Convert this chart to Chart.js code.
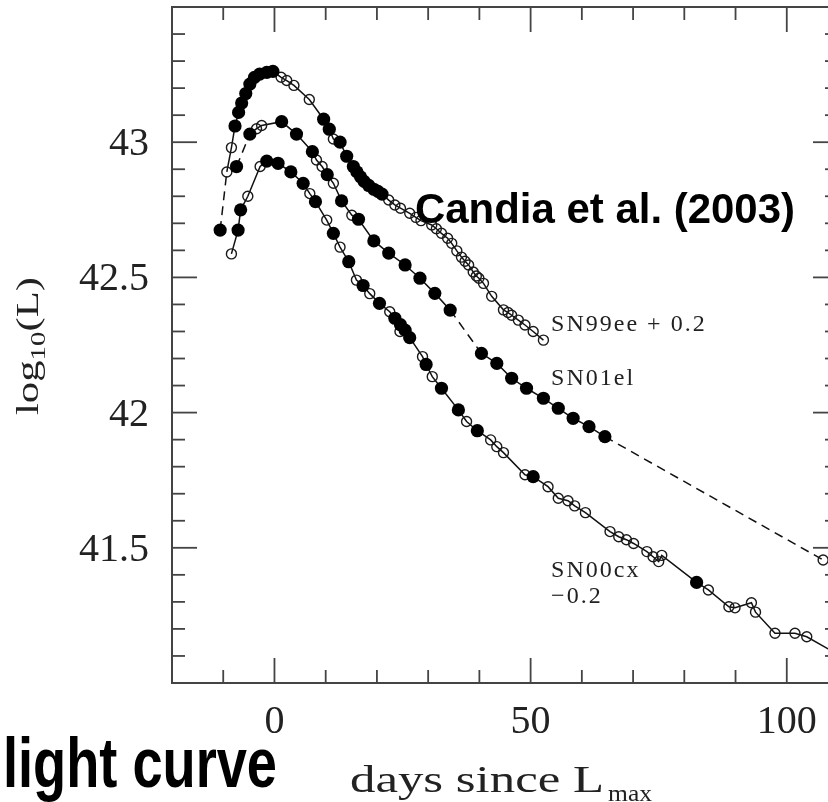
<!DOCTYPE html>
<html><head><meta charset="utf-8">
<script src="https://cdn.jsdelivr.net/npm/chart.js@4/dist/chart.umd.min.js"></script>
<style>html,body{margin:0;padding:0;background:#fff;overflow:hidden;width:828px;height:802px}canvas{display:block}</style>
</head><body>
<canvas id="c" width="860" height="802"></canvas>
<script>
// ---------------- data (days since L_max, log10 L) ----------------
const sn99eeFilledDays = [-10.6,-7.7,-7.0,-6.4,-5.6,-4.8,-3.9,-2.9,-1.5,-0.3,9.6,10.7,12.8,14.1,15.4,16.1,16.8,17.5,18.4,19.4,20.2,21.0];
const sn99eeFilledLogL = [42.675,43.06,43.11,43.145,43.18,43.215,43.24,43.252,43.258,43.262,43.085,43.048,43.0,42.948,42.91,42.89,42.872,42.855,42.84,42.826,42.818,42.808];
const sn99eeOpenDays = [-9.3,-8.4,1.3,2.4,3.8,6.8,11.5,22.3,23.5,24.6,26.4,27.6,28.6,30.7,31.6,32.6,33.8,34.6,35.6,36.5,37.2,37.9,38.8,39.4,39.9,40.8,42.4,44.7,45.6,46.3,47.6,48.9,50.5,52.5];
const sn99eeOpenLogL = [42.89,42.98,43.24,43.228,43.21,43.158,43.012,42.786,42.768,42.756,42.737,42.722,42.71,42.694,42.68,42.663,42.645,42.626,42.598,42.575,42.56,42.546,42.52,42.505,42.497,42.478,42.43,42.38,42.37,42.36,42.342,42.324,42.3,42.268];

const sn01elFilledDays = [-7.4,-4.8,1.4,4.3,7.4,10.3,13.1,16.4,19.4,22.3,25.5,28.4,31.3,34.3,40.4,43.4,46.3,49.2,52.5,55.4,58.3,61.4,64.5];
const sn01elFilledLogL = [42.91,43.03,43.076,43.03,42.965,42.88,42.783,42.715,42.635,42.59,42.546,42.497,42.441,42.379,42.219,42.182,42.127,42.09,42.053,42.016,41.979,41.948,41.911];
const sn01elOpenDays = [-3.5,-2.5,8.2,9.3,11.5,15.1,107.1];
const sn01elOpenLogL = [43.05,43.062,42.934,42.91,42.848,42.73,41.455];

const sn00cxFilledDays = [-7.1,-6.6,-1.5,0.7,3.2,5.6,8.0,11.5,14.5,17.3,20.5,23.5,24.6,25.5,26.4,29.6,32.6,35.9,39.6,50.5,82.4];
const sn00cxFilledLogL = [42.675,42.75,42.93,42.922,42.89,42.848,42.78,42.663,42.558,42.47,42.404,42.349,42.325,42.305,42.277,42.178,42.09,42.01,41.933,41.763,41.372];
const sn00cxOpenDays = [-8.4,-5.2,-2.8,6.9,10.2,12.8,16.0,18.6,22.5,24.5,28.9,30.8,37.5,42.2,43.4,44.7,48.9,53.4,55.4,57.3,58.6,60.7,65.5,67.2,68.7,70.1,72.7,73.9,75.0,75.6,84.7,88.7,89.9,93.1,93.9,97.7,101.6,103.9,110.5];
const sn00cxOpenLogL = [42.587,42.80,42.91,42.81,42.712,42.612,42.49,42.44,42.373,42.30,42.207,42.133,41.967,41.899,41.874,41.852,41.77,41.726,41.683,41.674,41.655,41.63,41.56,41.541,41.53,41.516,41.486,41.467,41.449,41.472,41.344,41.282,41.278,41.297,41.262,41.184,41.184,41.171,41.10];

const seriesNames = ['SN99ee + 0.2', 'SN01el', 'SN00cx'];
const xTickLabels = ['0', '50', '100'];
const yTickLabels = ['41.5', '42', '42.5', '43'];

// ---------------- styling / layout ----------------
const dashedRanges = [[[-11,-9]], [[-8,-4.5],[35,40],[65,107]], []];
const seriesLabels = [
  {lines:['SN99ee + 0.2'], day:54, logL:42.324},
  {lines:['SN01el'], day:54, logL:42.124},
  {lines:['SN00cx','\u22120.2'], day:54, logL:41.414}
];

const pts = (xs, ys) => xs.map((x, i) => ({x, y: ys[i]}));
const groups = [
  [pts(sn99eeFilledDays, sn99eeFilledLogL), pts(sn99eeOpenDays, sn99eeOpenLogL)],
  [pts(sn01elFilledDays, sn01elFilledLogL), pts(sn01elOpenDays, sn01elOpenLogL)],
  [pts(sn00cxFilledDays, sn00cxFilledLogL), pts(sn00cxOpenDays, sn00cxOpenLogL)]
];

const datasets = [];
groups.forEach((g, i) => {
  const ranges = dashedRanges[i];
  datasets.push({label: seriesNames[i] + ' (filled)', data: g[0], showLine: false,
    pointRadius: 6.6, pointBackgroundColor: '#000', pointBorderColor: '#000', pointBorderWidth: 0, order: 0});
  datasets.push({label: seriesNames[i] + ' (open)', data: g[1], showLine: false,
    pointRadius: 5, pointBackgroundColor: 'rgba(0,0,0,0)', pointBorderColor: '#1a1a1a', pointBorderWidth: 1.4, order: 1});
  datasets.push({label: seriesNames[i], data: g[0].concat(g[1]).sort((a, b) => a.x - b.x), showLine: true,
    pointRadius: 0, borderColor: '#111', borderWidth: 1.5, tension: 0, order: 2,
    segment: {borderDash: ctx => {
      const mid = (ctx.p0.parsed.x + ctx.p1.parsed.x) / 2;
      return ranges.some(r => mid >= r[0] && mid <= r[1]) ? [9, 6] : undefined;
    }}});
});

function fitText(ctx, text, x, y, font, width) {
  ctx.save();
  ctx.font = font;
  const w = ctx.measureText(text).width;
  ctx.translate(x, y);
  if (width) ctx.scale(width / w, 1);
  ctx.textAlign = 'left';
  ctx.textBaseline = 'alphabetic';
  ctx.fillText(text, 0, 0);
  ctx.restore();
}

const framePlugin = {
  id: 'frame',
  beforeDatasetsDraw(chart) {
    const {ctx, chartArea: a, scales: {x, y}} = chart;
    ctx.save();
    ctx.strokeStyle = '#444';
    ctx.lineWidth = 2;
    ctx.strokeRect(a.left, a.top, a.right - a.left, a.bottom - a.top);
    ctx.lineWidth = 1.8;
    const ln = (x1, y1, x2, y2) => { ctx.beginPath(); ctx.moveTo(x1, y1); ctx.lineTo(x2, y2); ctx.stroke(); };
    for (let d = -10; d < 110; d += 10) {
      const px = x.getPixelForValue(d);
      const L = d % 50 === 0 ? 25 : 13;
      ln(px, a.bottom, px, a.bottom - L);
      ln(px, a.top, px, a.top + L);
    }
    for (let k = 1; k < 25; k++) {
      const py = y.getPixelForValue(41 + k * 0.1);
      const L = k % 5 === 0 ? 25 : 13;
      ln(a.left, py, a.left + L, py);
      ln(a.right, py, a.right - L, py);
    }
    // tick labels from the scales
    ctx.fillStyle = '#222';
    ctx.font = '40px "Liberation Serif"';
    ctx.textBaseline = 'alphabetic';
    ctx.textAlign = 'center';
    xTickLabels.forEach(t => ctx.fillText(t, x.getPixelForValue(Number(t)), a.bottom + 50));
    ctx.textAlign = 'right';
    yTickLabels.forEach(t => ctx.fillText(t, a.left - 23, y.getPixelForValue(Number(t)) + 13));
    ctx.restore();
  }
};

const textPlugin = {
  id: 'texts',
  afterDraw(chart) {
    const {ctx, scales: {x, y}} = chart;
    ctx.save();
    ctx.fillStyle = '#222';
    // series labels
    ctx.font = '24px "Liberation Serif"';
    ctx.letterSpacing = '2px';
    ctx.textBaseline = 'middle';
    ctx.textAlign = 'left';
    seriesLabels.forEach(s => {
      const px = x.getPixelForValue(s.day), py = y.getPixelForValue(s.logL);
      s.lines.forEach((t, i) => ctx.fillText(t, px, py + i * 26));
    });
    ctx.letterSpacing = '0px';
    ctx.textBaseline = 'alphabetic';
    // axis title (y)
    ctx.save();
    ctx.translate(38, 346);
    ctx.rotate(-Math.PI / 2);
    ctx.font = '31px "Liberation Serif"';
    const w1 = ctx.measureText('log').width;
    ctx.font = '21px "Liberation Serif"';
    const w2 = ctx.measureText('10').width;
    ctx.font = '31px "Liberation Serif"';
    const w3 = ctx.measureText('(L)').width;
    const s = 138 / (w1 + w2 + w3);
    ctx.scale(s, 1);
    let cx = -(w1 + w2 + w3) / 2;
    ctx.fillText('log', cx, 0); cx += w1;
    ctx.font = '21px "Liberation Serif"';
    ctx.fillText('10', cx, 7); cx += w2;
    ctx.font = '31px "Liberation Serif"';
    ctx.fillText('(L)', cx, 0);
    ctx.restore();
    // x title
    fitText(ctx, 'days since L', 350, 792, '38px "Liberation Serif"', 254);
    fitText(ctx, 'max', 608, 801, '24px "Liberation Serif"', 44);
    // overlay labels
    ctx.fillStyle = '#000';
    fitText(ctx, 'Candia et al. (2003)', 415, 223, 'bold 43px "Liberation Sans"', 380);
    fitText(ctx, 'light curve', 3, 787, 'bold 70px "Liberation Sans"', 274);
    ctx.restore();
  }
};

new Chart(document.getElementById('c'), {
  type: 'scatter',
  data: {datasets},
  options: {
    responsive: false,
    animation: false,
    events: [],
    layout: {padding: {top: 7, right: 22, left: 0, bottom: 0}},
    plugins: {legend: {display: false}, tooltip: {enabled: false}, title: {display: false}},
    scales: {
      x: {
        type: 'linear', min: -20, max: 110,
        grid: {display: false, drawTicks: false}, border: {display: false},
        ticks: {display: false, stepSize: 10},
        afterFit: s => { s.height = 119; }
      },
      y: {
        type: 'linear', min: 41, max: 43.5,
        grid: {display: false, drawTicks: false}, border: {display: false},
        ticks: {display: false, stepSize: 0.1},
        afterFit: s => { s.width = 172; }
      }
    }
  },
  plugins: [framePlugin, textPlugin]
});
</script>
</body></html>
